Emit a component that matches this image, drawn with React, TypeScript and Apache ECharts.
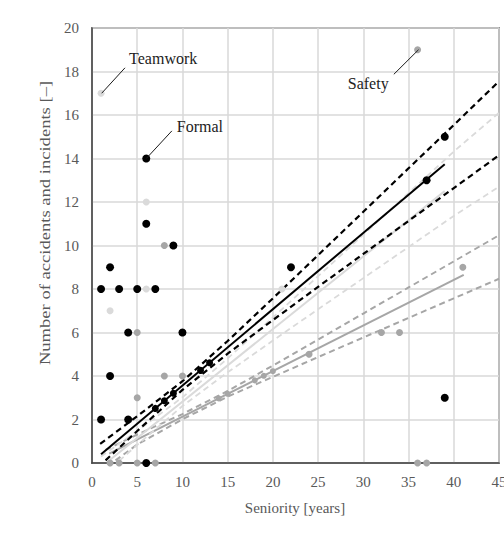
import React, { useEffect, useRef } from "react";
import * as echarts from "echarts";

// ---- data ----
const xTickMax = 45;
const yTickMax = 20;

const formalPoints: [number, number][] = [
  [1, 8], [1, 2], [2, 9], [2, 4], [3, 8], [4, 6], [4, 2], [5, 8], [6, 14], [6, 11],
  [6, 0], [7, 8], [9, 10], [10, 6], [22, 9], [37, 13], [39, 15], [39, 3],
];
const teamworkPoints: [number, number][] = [
  [1, 17], [2, 7], [6, 12], [6, 8], [21, 8],
];
const safetyPoints: [number, number][] = [
  [36, 19], [8, 10], [5, 6], [8, 4], [10, 4], [5, 3], [24, 5], [32, 6], [34, 6],
  [41, 9], [2, 0], [3, 0], [5, 0], [7, 0], [36, 0], [37, 0],
];
const formalFitMarkers: [number, number][] = [[7, 2.51], [8, 2.86], [9, 3.21], [12, 4.26], [13, 4.61]];
const safetyFitMarkers: [number, number][] = [[14, 2.97], [15, 3.18], [18, 3.8], [19, 4.01], [20, 4.22]];

const formalFit: [number, number][] = [[1, 0.4], [39, 13.74]];
const teamworkFit: [number, number][] = [[2, 0.15], [39, 12.5]];
const safetyFit: [number, number][] = [[1.9, 0.43], [41.1, 8.65]];

const formalUpper: [number, number][] = [[0.9, 0.88], [5, 2.15], [10, 3.76], [15, 5.61], [20, 7.57], [25, 9.56], [30, 11.55], [35, 13.55], [40, 15.54], [45, 17.55]];
const formalLower: [number, number][] = [[1.5, 0.12], [5, 1.47], [10, 3.36], [15, 5.03], [20, 6.57], [25, 8.1], [30, 9.61], [35, 11.13], [40, 12.64], [45, 14.15]];
const teamworkUpper: [number, number][] = [[1, 0.3], [5, 1.47], [10, 3.02], [15, 4.81], [20, 6.69], [25, 8.59], [30, 10.5], [35, 12.41], [40, 14.32], [45, 16.1]];
const teamworkLower: [number, number][] = [[3, 0.1], [5, 0.83], [10, 2.62], [15, 4.17], [20, 5.63], [25, 7.07], [30, 8.5], [35, 9.93], [40, 11.36], [45, 12.7]];
const safetyUpper: [number, number][] = [[1.5, 0.6], [5, 1.31], [10, 2.25], [15, 3.31], [20, 4.48], [25, 5.67], [30, 6.87], [35, 8.07], [40, 9.27], [45, 10.47]];
const safetyLower: [number, number][] = [[2.6, 0.12], [5, 0.85], [10, 2.01], [15, 3.05], [20, 3.96], [25, 4.87], [30, 5.77], [35, 6.67], [40, 7.57], [45, 8.47]];

// annotation anchors (data coordinates)
const annotations = [
  { text: "Teamwork", from: [1.07, 17.0], to: [3.65, 18.17], label: [4.1, 18.6], align: "left" },
  { text: "Safety", from: [36.1, 19.0], to: [33.37, 17.87], label: [32.8, 17.45], align: "right" },
  { text: "Formal", from: [6, 14], to: [8.83, 15.27], label: [9.38, 15.47], align: "left" },
];

const BLACK = "#000000";
const GRAY = "#a6a6a6";
const LIGHT = "#dadada";
const FONT = "'Liberation Serif', 'Times New Roman', serif";

function lineSeries(data: [number, number][], color: string, dashed: boolean, width: number) {
  return {
    type: "line",
    data,
    showSymbol: false,
    symbol: "none",
    silent: true,
    lineStyle: { color, width, type: dashed ? [6, 4] : "solid" },
    z: 3,
  };
}

function scatterSeries(data: [number, number][], color: string, size: number) {
  return {
    type: "scatter",
    data,
    symbolSize: size,
    silent: true,
    itemStyle: { color, opacity: 1 },
    z: 4,
  };
}

export default function App() {
  const ref = useRef<HTMLDivElement>(null);
  useEffect(() => {
    const chart = echarts.init(ref.current!, null, { renderer: "svg" });
    const option: any = {
      animation: false,
      backgroundColor: "#ffffff",
      grid: {
        left: 92,
        right: 5,
        top: 28,
        bottom: 81,
        show: true,
        borderColor: "#404040",
        borderWidth: 1.5,
        backgroundColor: "transparent",
        containLabel: false,
        outerBoundsMode: "none",
      },
      xAxis: {
        type: "value",
        min: 0,
        max: xTickMax,
        interval: 5,
        axisLine: { show: true, lineStyle: { color: "#404040", width: 1.5 } },
        axisTick: { show: false },
        axisLabel: { color: "#595959", fontFamily: FONT, fontSize: 15, margin: 11 },
        splitLine: { show: true, lineStyle: { color: "#d9d9d9", width: 1.5 } },
      },
      yAxis: {
        type: "value",
        min: 0,
        max: yTickMax,
        interval: 2,
        axisLine: { show: true, lineStyle: { color: "#404040", width: 1.5 } },
        axisTick: { show: false },
        axisLabel: { color: "#595959", fontFamily: FONT, fontSize: 15, margin: 13 },
        splitLine: { show: true, lineStyle: { color: "#d9d9d9", width: 1.5 } },
      },
      series: [
        lineSeries(safetyUpper, GRAY, true, 2),
        lineSeries(safetyLower, GRAY, true, 2),
        lineSeries(safetyFit, GRAY, false, 2),
        lineSeries(teamworkUpper, LIGHT, true, 1.8),
        lineSeries(teamworkLower, LIGHT, true, 1.8),
        lineSeries(teamworkFit, LIGHT, false, 2),
        lineSeries(formalUpper, BLACK, true, 2.2),
        lineSeries(formalLower, BLACK, true, 2.2),
        lineSeries(formalFit, BLACK, false, 2),
        scatterSeries(safetyPoints, GRAY, 7),
        scatterSeries(teamworkPoints, LIGHT, 7),
        scatterSeries(formalPoints, BLACK, 8),
        scatterSeries(safetyFitMarkers, GRAY, 6),
        scatterSeries(formalFitMarkers, BLACK, 7),
      ],
      graphic: [
        {
          type: "text",
          x: 295,
          y: 508,
          style: {
            text: "Seniority [years]",
            font: `15px ${FONT}`,
            fill: "#595959",
            textAlign: "center",
            textVerticalAlign: "middle",
          },
        },
        {
          type: "text",
          x: 45,
          y: 223,
          rotation: Math.PI / 2,
          scaleX: 1.24,
          style: {
            text: "Number of accidents and incidents [–]",
            font: `15px ${FONT}`,
            fill: "#595959",
            textAlign: "center",
            textVerticalAlign: "middle",
          },
        },
      ],
    };
    chart.setOption(option);

    const px = (v: number[]) => chart.convertToPixel({ gridIndex: 0 }, v) as number[];
    const extra: any[] = [];
    annotations.forEach((a) => {
      const f = px(a.from);
      const t = px(a.to);
      const l = px(a.label);
      extra.push({
        type: "line",
        shape: { x1: f[0], y1: f[1], x2: t[0], y2: t[1] },
        style: { stroke: "#1a1a1a", lineWidth: 1 },
        z: 10,
      });
      extra.push({
        type: "text",
        x: l[0],
        y: l[1],
        z: 10,
        style: {
          text: a.text,
          font: `16px ${FONT}`,
          fill: "#222222",
          textAlign: a.align,
          textVerticalAlign: "middle",
        },
      });
    });
    chart.setOption({ graphic: [...option.graphic, ...extra] });

    return () => chart.dispose();
  }, []);
  return (
    <div
      ref={ref}
      style={{ position: "fixed", left: 0, top: 0, width: 504, height: 544, background: "#fff" }}
    />
  );
}
